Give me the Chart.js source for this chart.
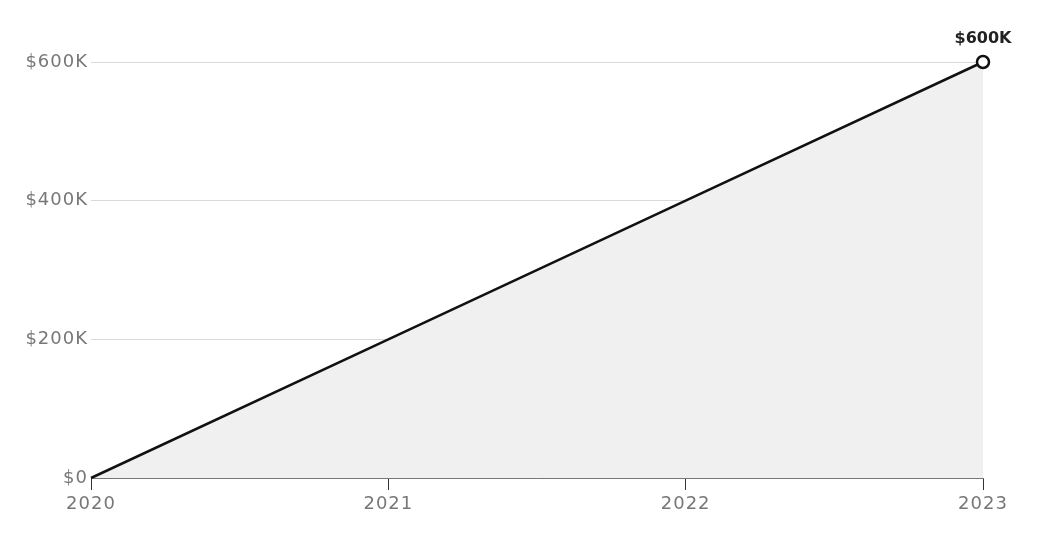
<!DOCTYPE html>
<html>
<head>
<meta charset="utf-8">
<script src="https://cdn.jsdelivr.net/npm/chart.js@4"></script>
<style>
html,body{margin:0;padding:0;background:#fff}
#wrap{width:1049px;height:548px}
</style>
</head>
<body>
<div id="wrap"><canvas id="c"></canvas></div>
<script>
let years=["2020","2021","2022","2023"]
let values=[0,200000,400000,600000]
let yTicks=[0,200000,400000,600000]

function money(v){
if(v===0)return "$0"
return "$"+(v/1000)+"K"
}

// wider lettering, closer to the original face
let spacing={
id:"spacing",
beforeDraw(chart){chart.ctx.letterSpacing="1px"}
}

// label above the last point
let endLabel={
id:"endLabel",
afterDatasetsDraw(chart){
let meta=chart.getDatasetMeta(0)
let i=values.length-1
let p=meta.data[i]
let ctx=chart.ctx
ctx.save()
ctx.letterSpacing="0px"
ctx.font="bold 16px 'DejaVu Sans'"
ctx.fillStyle="#222"
ctx.textAlign="center"
ctx.textBaseline="middle"
ctx.fillText(money(values[i]),p.x,p.y-23)
ctx.restore()
}
}

new Chart(document.getElementById("c"),{
type:"line",
data:{
labels:years,
datasets:[{
data:values,
borderColor:"#111",
borderWidth:2.5,
backgroundColor:"#f0f0f0",
fill:"origin",
tension:0,
clip:false,
pointRadius:values.map((v,i)=>i===values.length-1?6:0),
pointBorderWidth:2.5,
pointBackgroundColor:"#fff",
pointBorderColor:"#111"
}]
},
options:{
responsive:true,
maintainAspectRatio:false,
animation:false,
layout:{padding:{left:0,right:66,top:62,bottom:0}},
plugins:{legend:{display:false},tooltip:{enabled:false}},
scales:{
x:{
offset:false,
grid:{drawOnChartArea:false,drawTicks:true,tickLength:12,color:"#333",tickWidth:1},
border:{display:true,color:"#777",width:1},
ticks:{color:"#777",font:{family:"'DejaVu Sans'",size:18},padding:4,maxRotation:0},
afterFit(s){s.height=70}
},
y:{
min:0,max:600000,
afterBuildTicks(s){s.ticks=yTicks.map(v=>({value:v}))},
grid:{color:"#d9d9d9",drawTicks:false},
border:{display:false},
ticks:{color:"#777",font:{family:"'DejaVu Sans'",size:18},padding:3,callback:v=>money(v)},
afterFit(s){s.width=91}
}
}
},
plugins:[spacing,endLabel]
})
</script>
</body>
</html>
